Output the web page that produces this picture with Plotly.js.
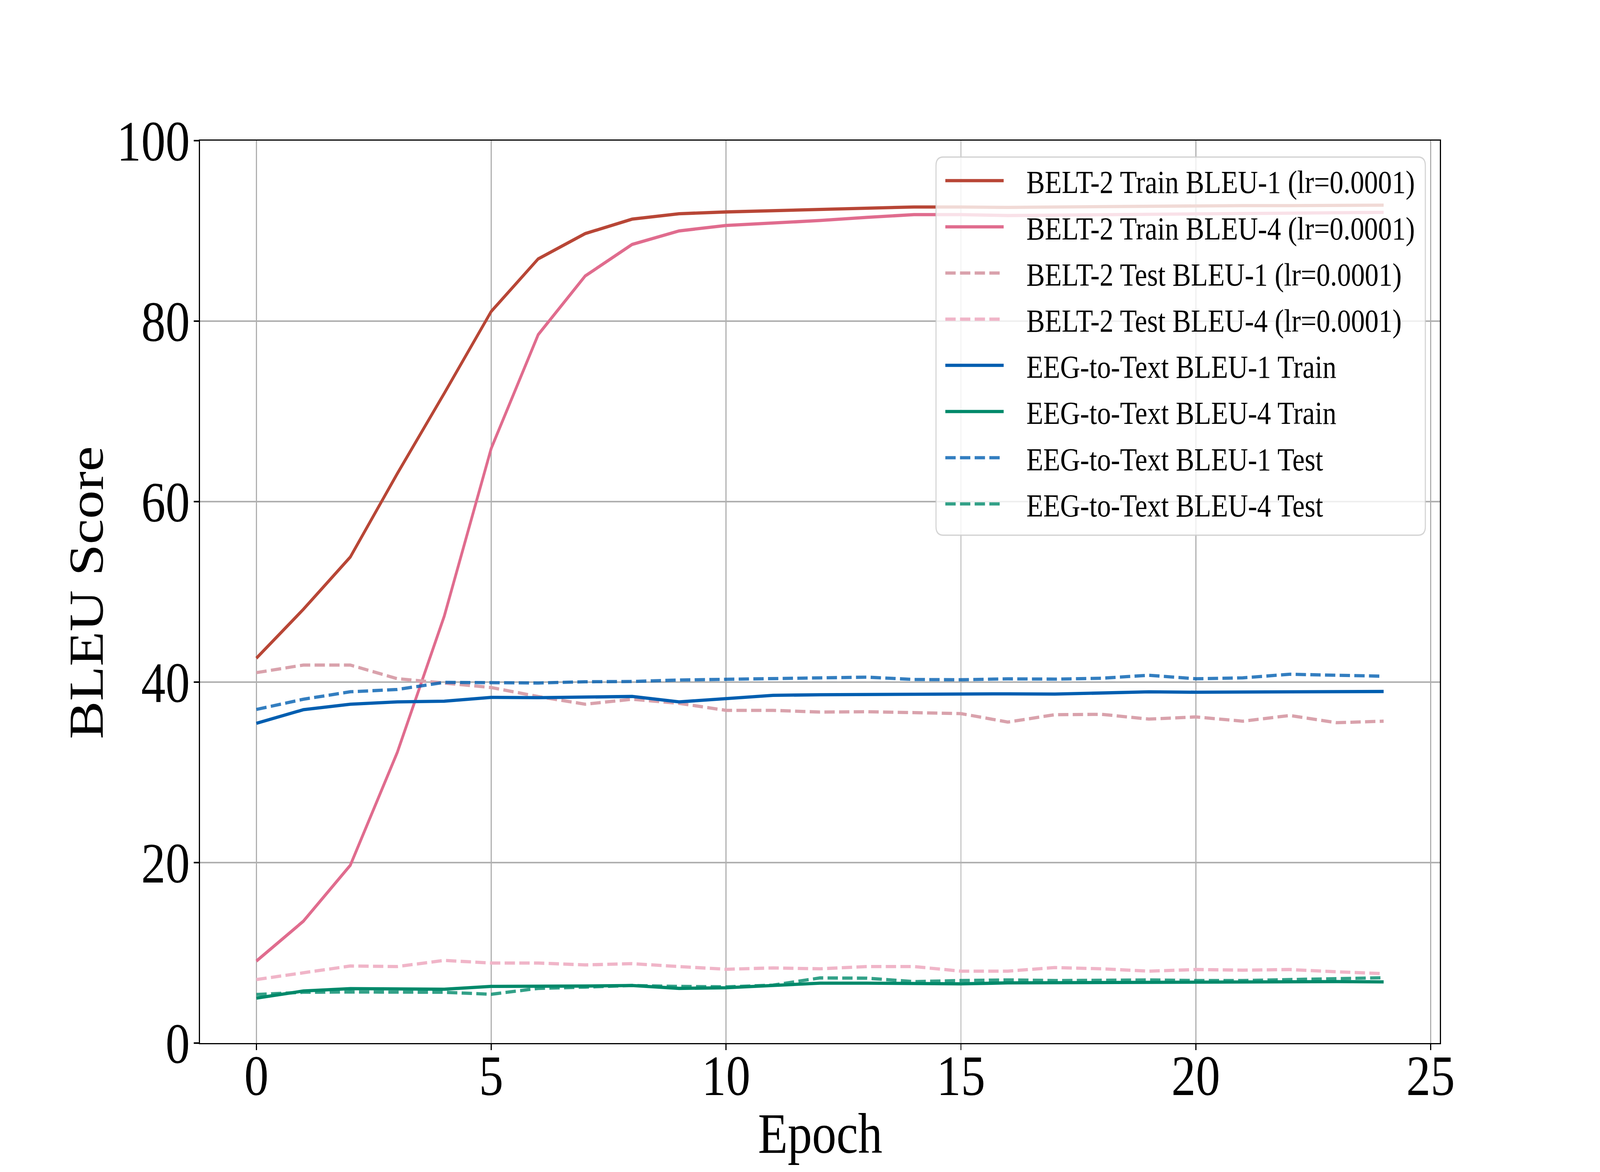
<!DOCTYPE html>
<html>
<head>
<meta charset="utf-8">
<script src="https://cdn.plot.ly/plotly-3.0.1.min.js"></script>
<style>
html,body{margin:0;padding:0;background:#fff;overflow:hidden;width:100vw;height:100vh;}
#chart{position:absolute;left:0;top:0;width:4800px;height:3000px;transform-origin:0 0;}
</style>
</head>
<body>
<div id="chart"></div>
<script>
var epochs = [0,1,2,3,4,5,6,7,8,9,10,11,12,13,14,15,16,17,18,19,20,21,22,23,24];

var beltTrainB1 = [42.65,48.06,53.86,63.1,72.0,81.07,86.9,89.7,91.3,91.9,92.1,92.25,92.35,92.5,92.65,92.65,92.6,92.65,92.7,92.75,92.75,92.8,92.8,92.85,92.85];
var beltTrainB4 = [9.09,13.5,19.7,32.2,47.3,65.9,78.5,85.0,88.5,90.0,90.6,90.85,91.15,91.5,91.8,91.8,91.7,91.75,91.8,91.85,91.9,91.95,92.0,92.05,92.05];
var beltTestB1 = [41.05,41.89,41.89,40.38,39.9,39.4,38.4,37.55,38.1,37.65,36.87,36.87,36.68,36.72,36.62,36.51,35.57,36.39,36.43,35.9,36.14,35.67,36.3,35.5,35.67];
var beltTestB4 = [7.04,7.79,8.54,8.48,9.16,8.87,8.87,8.66,8.8,8.48,8.18,8.33,8.23,8.48,8.48,7.97,7.97,8.37,8.23,7.97,8.15,8.08,8.15,7.9,7.69];
var eegB1Train = [35.43,36.94,37.55,37.81,37.88,38.31,38.27,38.38,38.41,37.81,38.21,38.53,38.6,38.64,38.6,38.64,38.7,38.67,38.79,38.92,38.88,38.9,38.96,39.02,38.96];
var eegB4Train = [4.98,5.77,6.03,6.03,5.97,6.28,6.28,6.32,6.38,6.06,6.13,6.38,6.64,6.64,6.61,6.56,6.67,6.7,6.73,6.78,6.73,6.75,6.84,6.81,6.78];
var eegB1Test = [36.97,38.1,38.93,39.18,39.97,39.96,39.9,40.04,40.07,40.23,40.29,40.36,40.43,40.55,40.29,40.26,40.36,40.33,40.43,40.76,40.37,40.47,40.87,40.76,40.65];
var eegB4Test = [5.38,5.63,5.66,5.66,5.63,5.41,6.06,6.2,6.38,6.28,6.23,6.42,7.22,7.19,6.81,6.93,7.0,6.93,6.96,7.0,6.93,6.93,7.04,7.1,7.24];

var seriesNames = [
  "BELT-2 Train BLEU-1 (lr=0.0001)",
  "BELT-2 Train BLEU-4 (lr=0.0001)",
  "BELT-2 Test BLEU-1 (lr=0.0001)",
  "BELT-2 Test BLEU-4 (lr=0.0001)",
  "EEG-to-Text BLEU-1 Train",
  "EEG-to-Text BLEU-4 Train",
  "EEG-to-Text BLEU-1 Test",
  "EEG-to-Text BLEU-4 Test"
];
var seriesValues = [beltTrainB1, beltTrainB4, beltTestB1, beltTestB4, eegB1Train, eegB4Train, eegB1Test, eegB4Test];
var seriesColors = ["rgb(184,70,54)","rgb(224,108,142)","rgb(217,162,172)","rgb(240,181,200)","rgb(0,94,176)","rgb(0,137,106)","rgba(0,94,176,0.8)","rgba(0,137,106,0.8)"];
var seriesDashed = [false,false,true,true,false,false,true,true];

var xTicks = [0,5,10,15,20,25];
var yTicks = [0,20,40,60,80,100];
var xTitle = 'Epoch';
var yTitle = 'BLEU Score';

var FONT = "'Liberation Serif','Times New Roman',Times,serif";
var LW = 8.3;
var DASH = '31px,13px';
function dashOf(d){ return d ? DASH : 'solid'; }

var traces = seriesValues.map(function(v, i){
  return {x: epochs, y: v, type: 'scatter', mode: 'lines', name: seriesNames[i],
    line: {color: seriesColors[i], width: LW, dash: dashOf(seriesDashed[i])}, showlegend: false, hoverinfo: 'skip'};
});

// plot area in page pixels (4800x3000 design)
var L = 600, R = 4320, T = 360, B = 2670;
function px(x){ return (x - L) / (R - L); }
function py(y){ return (B - y) / (B - T); }

// legend frame with rounded corners
var bx0 = px(2808), bx1 = px(4276), by0 = py(1370), by1 = py(402);
var rx = 22 / (R - L), ry = 22 / (B - T);
var framePath = 'M' + (bx0+rx) + ',' + by1 +
  ' L' + (bx1-rx) + ',' + by1 + ' Q' + bx1 + ',' + by1 + ' ' + bx1 + ',' + (by1-ry) +
  ' L' + bx1 + ',' + (by0+ry) + ' Q' + bx1 + ',' + by0 + ' ' + (bx1-rx) + ',' + by0 +
  ' L' + (bx0+rx) + ',' + by0 + ' Q' + bx0 + ',' + by0 + ' ' + bx0 + ',' + (by0+ry) +
  ' L' + bx0 + ',' + (by1-ry) + ' Q' + bx0 + ',' + by1 + ' ' + (bx0+rx) + ',' + by1 + ' Z';
var shapes = [{type:'path', xref:'paper', yref:'paper', path:framePath,
  fillcolor:'rgba(255,255,255,0.8)', line:{color:'rgba(204,204,204,0.85)', width:3.3}, layer:'above'}];
var annotations = [];
var rowTop = 462.4, rowGap = 118.2;
seriesNames.forEach(function(n, i){
  var yc = rowTop + i*rowGap;
  shapes.push({type:'line', xref:'paper', yref:'paper', x0:px(2836), x1:px(3011), y0:py(yc), y1:py(yc),
    line:{color:seriesColors[i], width:LW, dash:dashOf(seriesDashed[i])}, layer:'above'});
  annotations.push({xref:'paper', yref:'paper', x:px(3077), y:py(yc+4), xanchor:'left', yanchor:'middle',
    text:n, showarrow:false, font:{family:FONT, size:83, color:'#000'}});
});
// axis titles
annotations.push({xref:'paper', yref:'paper', x:px(2460), y:py(2902), xanchor:'center', yanchor:'middle',
  text:xTitle, showarrow:false, font:{family:FONT, size:146, color:'#000'}});
annotations.push({xref:'paper', yref:'paper', x:px(259), y:py(1517), xanchor:'center', yanchor:'middle', textangle:-90,
  text:yTitle, showarrow:false, font:{family:FONT, size:146, color:'#000'}});

var axisCommon = {showgrid:true, gridcolor:'#b0b0b0', gridwidth:3.3, showline:true, linecolor:'#000', linewidth:3.3,
  mirror:true, ticks:'outside', ticklen:15, tickwidth:3.3, tickcolor:'#000', zeroline:false, automargin:false,
  tickfont:{family:FONT, size:146, color:'#000'}};

var layout = {
  width:4800, height:3000,
  margin:{l:L, r:4800-R, t:T, b:3000-B, pad:0},
  paper_bgcolor:'#fff', plot_bgcolor:'#fff',
  font:{family:FONT, color:'#000'},
  showlegend:false,
  xaxis: Object.assign({}, axisCommon, {range:[-1.2,25.2], tickmode:'array', tickvals:xTicks, ticktext:xTicks.map(String),
    ticklabelstandoff:-60}),
  yaxis: Object.assign({}, axisCommon, {range:[0,100], tickmode:'array', tickvals:yTicks, ticktext:yTicks.map(String),
    ticklabelstandoff:-17}),
  shapes: shapes,
  annotations: annotations
};

// fit the 4800x3000 figure into the actual viewport
var vw = window.innerWidth || 4800, vh = window.innerHeight || 3000;
var sx = vw / 4800, sy = vh / 3000;
if (!(sx > 0)) sx = 1; if (!(sy > 0)) sy = 1;
var el = document.getElementById('chart');
if (Math.abs(sx - 1) > 1e-3 || Math.abs(sy - 1) > 1e-3) {
  el.style.transform = 'scale(' + sx + ',' + sy + ')';
}
Plotly.newPlot(el, traces, layout, {staticPlot:true, displayModeBar:false});
</script>
</body>
</html>
